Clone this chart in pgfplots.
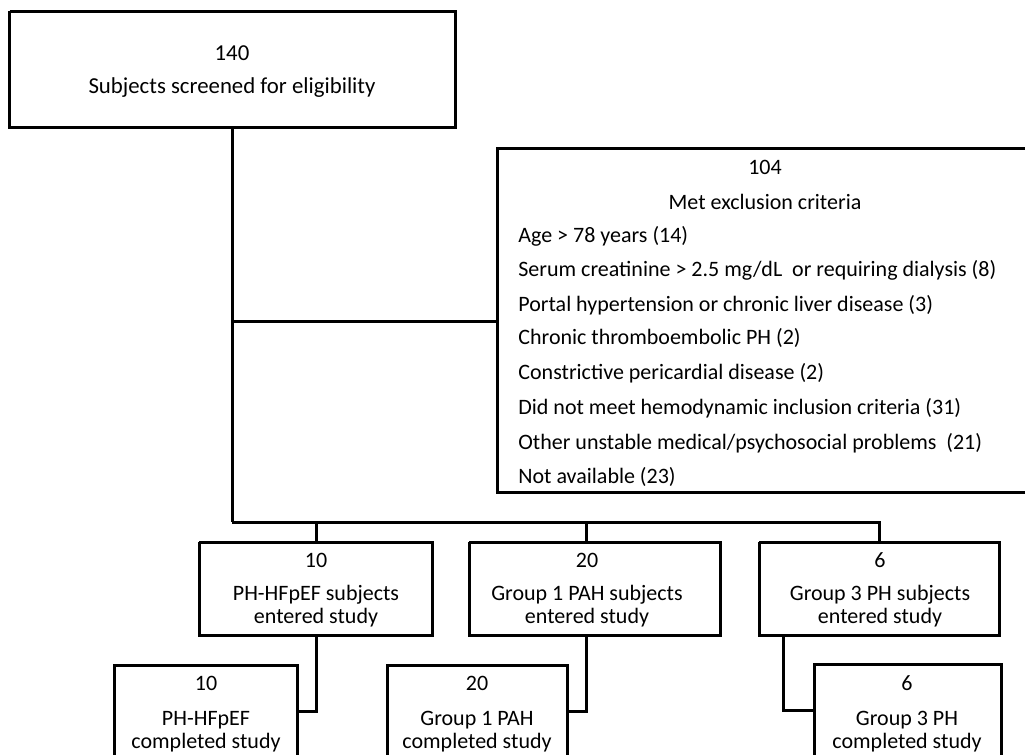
\documentclass[border=0pt]{standalone}
\usepackage{pgfplots}
\pgfplotsset{compat=1.18}
\usepackage{fontspec}
\setmainfont{Carlito}
\begin{document}
\begin{tikzpicture}[ln/.style={black, solid, line width=1.5pt, mark=none, line join=miter}]
\begin{axis}[
  scale only axis, width=512.5pt, height=377.5pt,
  xmin=0, xmax=1025, ymin=0, ymax=755, y dir=reverse,
  axis lines=none, clip=true,
]
% boxes
\addplot[ln] coordinates {(9.5,11) (455,11) (455,127) (9.5,127) (9.5,11)};
\addplot[ln] coordinates {(1040,148) (497,148) (497,492) (1040,492)};
\addplot[ln] coordinates {(199,542) (432,542) (432,635) (199,635) (199,542)};
\addplot[ln] coordinates {(469,542) (720,542) (720,635) (469,635) (469,542)};
\addplot[ln] coordinates {(759,542) (999,542) (999,635) (759,635) (759,542)};
\addplot[ln] coordinates {(114,780) (114,665) (297,665) (297,780)};
\addplot[ln] coordinates {(387,780) (387,665) (567,665) (567,780)};
\addplot[ln] coordinates {(814,780) (814,664) (1001,664) (1001,780)};
% connectors
\addplot[ln] coordinates {(232,127) (232,522)};
\addplot[ln] coordinates {(232,321) (497,321)};
\addplot[ln] coordinates {(232,522) (879,522) (879,542)};
\addplot[ln] coordinates {(316,522) (316,542)};
\addplot[ln] coordinates {(586,522) (586,542)};
\addplot[ln] coordinates {(316,635) (316,711) (297,711)};
\addplot[ln] coordinates {(586,635) (586,711) (567,711)};
\addplot[ln] coordinates {(783,635) (783,710) (814,710)};
% texts
\begin{scope}[every node/.style={font=\fontsize{11}{13}\selectfont, inner sep=0pt}]
\node[font=\fontsize{11.4}{13}\selectfont] at (axis cs:232,53) {140};
\node[font=\fontsize{11.4}{13}\selectfont] at (axis cs:232,88) {Subjects screened for eligibility};
\node at (axis cs:765,167) {104};
\node at (axis cs:765,202) {Met exclusion criteria};
\node[anchor=west] at (axis cs:518,236) {Age > 78 years (14)};
\node[anchor=west] at (axis cs:518,270) {Serum creatinine > 2.5 mg/dL\ \ or requiring dialysis (8)};
\node[anchor=west] at (axis cs:518,305) {Portal hypertension or chronic liver disease (3)};
\node[anchor=west] at (axis cs:518,338) {Chronic thromboembolic PH (2)};
\node[anchor=west] at (axis cs:518,373) {Constrictive pericardial disease (2)};
\node[anchor=west] at (axis cs:518,408) {Did not meet hemodynamic inclusion criteria (31)};
\node[anchor=west] at (axis cs:518,443) {Other unstable medical/psychosocial problems\ \ (21)};
\node[anchor=west] at (axis cs:518,477) {Not available (23)};
\node at (axis cs:316,560) {10};
\node at (axis cs:316,595) {PH-HFpEF subjects};
\node at (axis cs:316,618) {entered study};
\node at (axis cs:587,560) {20};
\node at (axis cs:587,595) {Group 1 PAH subjects};
\node at (axis cs:587,618) {entered study};
\node at (axis cs:880,560) {6};
\node at (axis cs:880,595) {Group 3 PH subjects};
\node at (axis cs:880,618) {entered study};
\node at (axis cs:206,683) {10};
\node at (axis cs:206,720) {PH-HFpEF};
\node at (axis cs:206,743) {completed study};
\node at (axis cs:477,683) {20};
\node at (axis cs:477,720) {Group 1 PAH};
\node at (axis cs:477,743) {completed study};
\node at (axis cs:907,683) {6};
\node at (axis cs:907,720) {Group 3 PH};
\node at (axis cs:907,743) {completed study};
\end{scope}
\coordinate (sw) at (rel axis cs:0,0);
\coordinate (ne) at (rel axis cs:1,1);
\end{axis}
\pgfresetboundingbox
\path (sw) rectangle (ne);
\end{tikzpicture}
\end{document}
